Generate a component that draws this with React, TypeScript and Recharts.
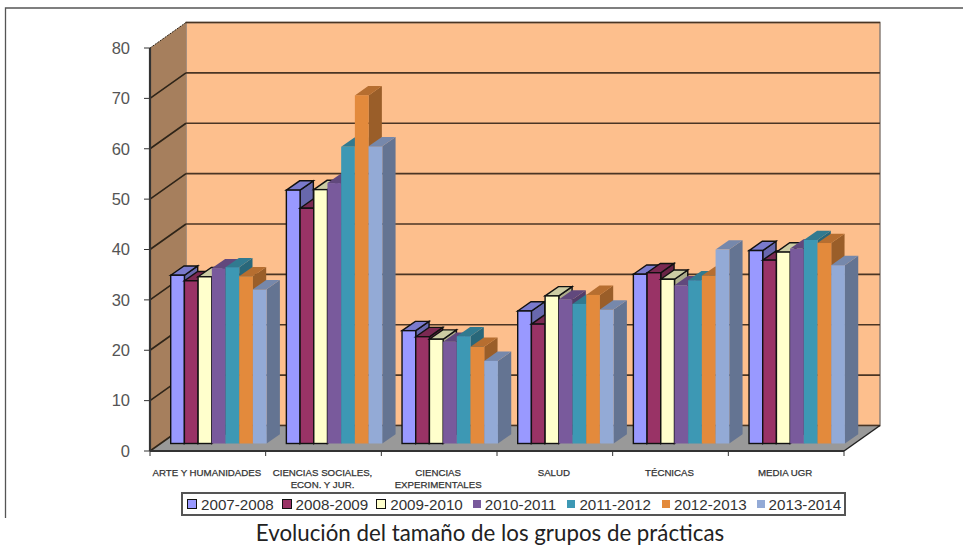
import React from 'react';
import { BarChart, Bar, XAxis, YAxis, Legend, Customized } from 'recharts';

const categories = [
  'ARTE Y HUMANIDADES',
  'CIENCIAS SOCIALES,\nECON. Y JUR.',
  'CIENCIAS\nEXPERIMENTALES',
  'SALUD',
  'TÉCNICAS',
  'MEDIA UGR',
];
const seriesNames = ['2007-2008', '2008-2009', '2009-2010', '2010-2011', '2011-2012', '2012-2013', '2013-2014'];
const values2007 = [33.4, 50.3, 22.4, 26.3, 33.6, 38.3];
const values2008 = [32.3, 46.7, 21.2, 23.7, 33.9, 36.4];
const values2009 = [33.1, 50.4, 20.7, 29.3, 32.6, 38.0];
const values2010 = [34.8, 51.7, 20.2, 28.6, 31.4, 38.7];
const values2011 = [35.0, 58.9, 21.3, 27.7, 32.4, 40.4];
const values2012 = [33.2, 69.1, 19.2, 29.5, 33.3, 39.8];
const values2013 = [30.6, 59.0, 16.4, 26.6, 38.5, 35.4];
const allValues = [values2007, values2008, values2009, values2010, values2011, values2012, values2013];
const yTicks = [0, 10, 20, 30, 40, 50, 60, 70, 80];

const colors = ['#9999FF', '#993366', '#FFFFCC', '#795A9C', '#3D98B4', '#E38A3C', '#93AAD6'];

const data = categories.map((name, i) => {
  const row: Record<string, string | number> = { name };
  seriesNames.forEach((s, j) => {
    row[s] = allValues[j][i];
  });
  return row;
});

// plot frame and the depth of the fake 3D box
const LEFT = 150;
const RIGHT = 844;
const TOP = 48;
const BOTTOM = 451;
const DEPTH_X = 36;
const DEPTH_Y = 25.5;
const BAND = (RIGHT - LEFT) / categories.length;
const LEGEND_HEIGHT = 24;

const shade = (hex: string, f: number) => {
  const n = parseInt(hex.slice(1), 16);
  const c = [(n >> 16) & 255, (n >> 8) & 255, n & 255].map(v => Math.round(v * f));
  return `rgb(${c[0]},${c[1]},${c[2]})`;
};

const Backdrop = () => {
  const bx = LEFT + DEPTH_X;
  const rx = RIGHT + DEPTH_X;
  const by = BOTTOM - DEPTH_Y;
  const ty = TOP - DEPTH_Y;
  return (
    <g>
      <polygon points={`${bx},${ty} ${rx},${ty} ${rx},${by} ${bx},${by}`} fill="#FDBF8D" stroke="#8a8078" strokeWidth={1.5} />
      <polygon points={`${LEFT},${TOP} ${bx},${ty} ${bx},${by} ${LEFT},${BOTTOM}`} fill="#A67F5D" />
      <polygon points={`${LEFT},${BOTTOM} ${bx},${by} ${rx},${by} ${RIGHT},${BOTTOM}`} fill="#999999" />
      {yTicks.map(t => {
        const y = BOTTOM - (t / 80) * (BOTTOM - TOP);
        return (
          <g key={t}>
            <line x1={LEFT} y1={y} x2={bx} y2={y - DEPTH_Y} stroke="#2e2418" strokeWidth={t === 80 ? 1 : 1.6} strokeDasharray={t === 80 ? '2 1' : undefined} />
            <line x1={bx} y1={y - DEPTH_Y} x2={rx} y2={y - DEPTH_Y} stroke="#4a3524" strokeWidth={1.6} />
          </g>
        );
      })}
      <line x1={RIGHT} y1={BOTTOM} x2={rx} y2={by} stroke="#222" strokeWidth={1.5} />
    </g>
  );
};

const Frame = () => (
  <g>
    <polyline points="963,8 5.5,8 5.5,518" fill="none" stroke="#555" strokeWidth={1.3} />
    <text x={490} y={541} textAnchor="middle" fontFamily="Lato" fontSize={22.3} fill="#222">
      Evolución del tamaño de los grupos de prácticas
    </text>
  </g>
);

const SHIFT_X = 10.7;
const SHIFT_Y = -7.5;
const BAR_DX = 13.3;
const BAR_DY = 9.3;

const Bar3D = (props: any) => {
  const { width: w, height: h, fill, outlined } = props;
  const x = props.x + SHIFT_X;
  const y = props.y + SHIFT_Y;
  const stroke = outlined ? '#111' : 'none';
  const sw = outlined ? 1.4 : 0;
  return (
    <g>
      <polygon
        points={`${x + w},${y} ${x + w + BAR_DX},${y - BAR_DY} ${x + w + BAR_DX},${y + h - BAR_DY} ${x + w},${y + h}`}
        fill={shade(fill, 0.68)}
        stroke={stroke}
        strokeWidth={sw}
      />
      <polygon
        points={`${x},${y} ${x + BAR_DX},${y - BAR_DY} ${x + w + BAR_DX},${y - BAR_DY} ${x + w},${y}`}
        fill={shade(fill, 0.8)}
        stroke={stroke}
        strokeWidth={sw}
      />
      <rect x={x} y={y} width={w} height={h} fill={fill} stroke={stroke} strokeWidth={sw} />
    </g>
  );
};

const CategoryTick = (props: any) => {
  const { x, y, payload, index } = props;
  const lines = String(payload.value).split('\n');
  return (
    <g>
      <line x1={x - BAND / 2} y1={BOTTOM} x2={x - BAND / 2} y2={BOTTOM + 5} stroke="#333" />
      {index === categories.length - 1 && <line x1={x + BAND / 2} y1={BOTTOM} x2={x + BAND / 2} y2={BOTTOM + 5} stroke="#333" />}
      {lines.map((line, i) => (
        <text key={line} x={x - 1} y={BOTTOM + 25 + i * 11.5} textAnchor="middle" fontFamily="Liberation Sans" fontSize={9.7} fill="#333" stroke="#333" strokeWidth={0.25}>
          {line}
        </text>
      ))}
    </g>
  );
};

const LegendBox = (props: any) => (
  <div style={{ display: 'flex', boxSizing: 'border-box', width: '100%', height: '100%', border: '2px solid #555', background: '#fff', alignItems: 'center', paddingLeft: 4 }}>
    {props.payload.map((item: any, i: number) => (
      <div key={item.value} style={{ width: 94.6, flexShrink: 0, display: 'flex', alignItems: 'center', fontFamily: 'Liberation Sans', fontSize: 15.2, color: '#333' }}>
        <span
          style={{
            display: 'inline-block',
            boxSizing: 'border-box',
            width: i < 3 ? 10 : 8,
            height: i < 3 ? 10 : 8,
            marginRight: 4,
            marginLeft: i < 3 ? 0 : 2,
            background: item.color,
            border: i < 3 ? '1.5px solid #111' : 'none',
          }}
        />
        {item.value}
      </div>
    ))}
  </div>
);

export default function App() {
  return (
    <div style={{ position: 'absolute', left: 0, top: 0, width: 963, height: 545, background: '#fff' }}>
      <BarChart
        width={963}
        height={545}
        data={data}
        margin={{ top: TOP, right: 963 - RIGHT, bottom: 545 - BOTTOM - 30 - LEGEND_HEIGHT, left: LEFT - 60 }}
        barSize={13.7}
        barGap={0}
      >
        <Customized component={<Backdrop />} />
        <Customized component={<Frame />} />
        <XAxis dataKey="name" height={30} tick={<CategoryTick />} tickLine={false} axisLine={{ stroke: '#333', strokeWidth: 2 }} interval={0} />
        <YAxis
          width={60}
          domain={[0, 80]}
          ticks={yTicks}
          tickSize={6}
          tickMargin={14}
          tick={{ fontFamily: 'Liberation Sans', fontSize: 16.5, fill: '#555' }}
          tickLine={{ stroke: '#333' }}
          axisLine={{ stroke: '#333', strokeWidth: 2.2 }}
        />
        <Legend
          content={<LegendBox />}
          wrapperStyle={{ position: 'absolute', left: 181, top: 492, width: 665, height: LEGEND_HEIGHT, bottom: 'auto' }}
        />
        {seriesNames.map((s, i) => (
          <Bar
            key={s}
            dataKey={s}
            fill={colors[i]}
            isAnimationActive={false}
            shape={(p: any) => <Bar3D {...p} outlined={i < 3} />}
          />
        ))}
      </BarChart>
    </div>
  );
}
